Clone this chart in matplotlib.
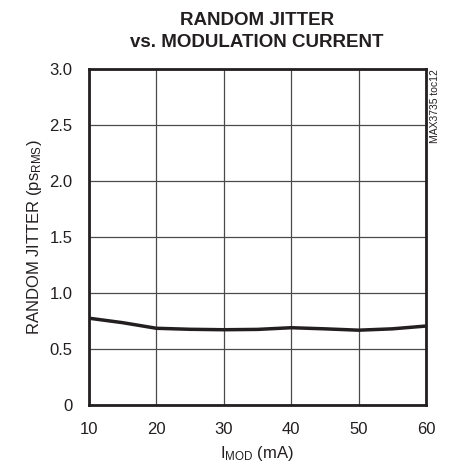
import numpy as np
import matplotlib.pyplot as plt

plt.rcParams['font.family'] = ['Liberation Sans', 'DejaVu Sans']
plt.rcParams['mathtext.fontset'] = 'custom'
plt.rcParams['mathtext.rm'] = 'Liberation Sans'
plt.rcParams['mathtext.it'] = 'Liberation Sans'

# data
imod = [10, 15, 20, 25, 30, 35, 40, 45, 50, 55, 60]
jitter = [0.775, 0.735, 0.685, 0.676, 0.672, 0.675, 0.69, 0.68, 0.668, 0.68, 0.705]
xticks = [10, 20, 30, 40, 50, 60]
yticks = [0, 0.5, 1.0, 1.5, 2.0, 2.5, 3.0]
ytick_labels = ['0', '0.5', '1.0', '1.5', '2.0', '2.5', '3.0']

ink = '#231f20'

fig = plt.figure(figsize=(4.49, 4.71), dpi=100)
ax = fig.add_axes([89/449, 66/471, 337/449, 336/471])

ax.plot(imod, jitter, color=ink, lw=2.5, solid_capstyle='butt')

ax.set_xlim(10, 60)
ax.set_ylim(0, 3.0)
ax.set_xticks(xticks)
ax.set_yticks(yticks)
ax.set_yticklabels(ytick_labels)
ax.grid(True, color='#4a4a4a', lw=0.9)
ax.tick_params(length=0, labelsize=12, colors=ink)
ax.tick_params(axis='y', pad=12)
ax.tick_params(axis='x', pad=12)
for s in ax.spines.values():
    s.set_linewidth(2)
    s.set_color(ink)

ax.set_xlabel(r'I$_{\mathrm{MOD}}$ (mA)', fontsize=12, color=ink, labelpad=5)
ax.set_ylabel(r'RANDOM JITTER (ps$_{\mathrm{RMS}}$)', fontsize=12, color=ink, labelpad=4)

fig.text(0.572, 0.975, 'RANDOM JITTER\nvs. MODULATION CURRENT', ha='center', va='top',
         fontsize=13.5, fontweight='bold', color=ink, linespacing=1.4,
         family=['Liberation Sans Narrow', 'Liberation Sans'])

fig.text(435/449, 1 - 69/471, 'MAX3735 toc12', rotation=90, ha='center', va='top',
         fontsize=7.5, color=ink)

fig.savefig('out.png', dpi=100)
